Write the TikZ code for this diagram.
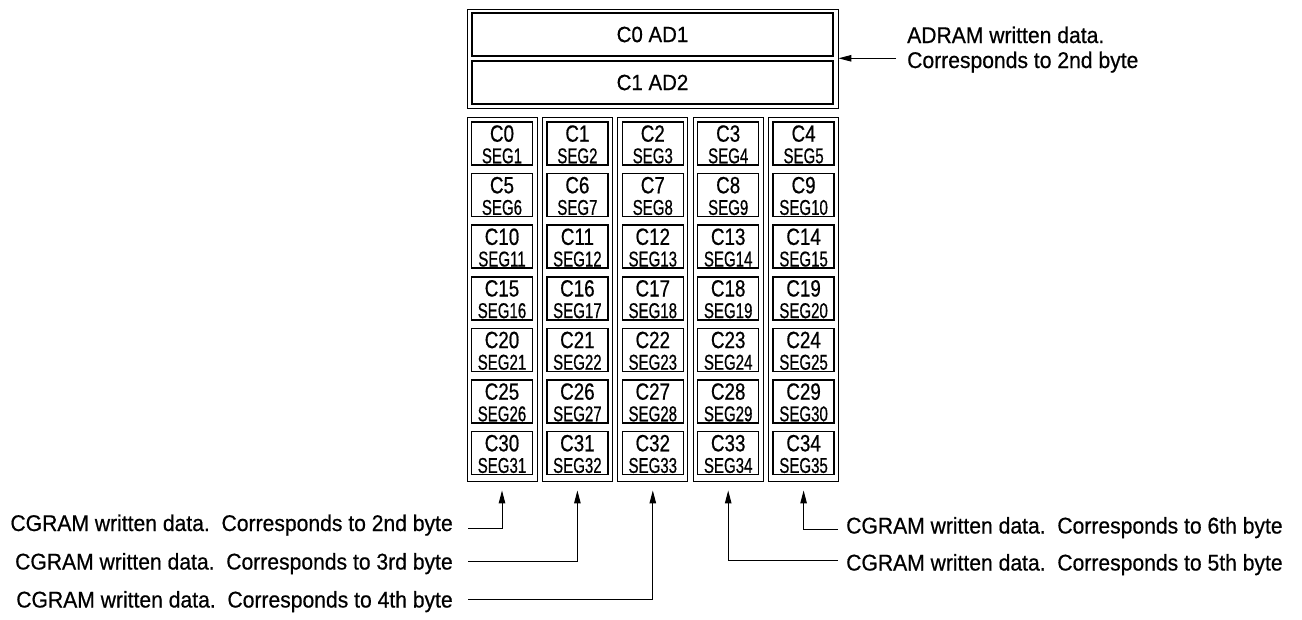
\documentclass[tikz,border=0pt]{standalone}
\usepackage{fontspec}
\setmainfont[FakeStretch=0.93,FakeBold=0.6]{Liberation Sans}
\newfontfamily\topcond[FakeStretch=0.8,FakeBold=0.6]{Liberation Sans}
\newfontfamily\botcond[FakeStretch=0.7,FakeBold=0.6]{Liberation Sans}
\usetikzlibrary{arrows.meta}
\begin{document}
\begin{tikzpicture}[x=1pt,y=-1pt,
  outerbox/.style={draw, line width=0.9pt, inner sep=0pt},
  innerbox/.style={draw, line width=1.5pt, inner sep=0pt},
  cellbox/.style={draw, line width=1.5pt, inner sep=0pt, minimum width=61pt, minimum height=43pt},
  celltop/.style={inner sep=0pt, font=\topcond\fontsize{23.5}{24}\selectfont},
  cellbot/.style={inner sep=0pt, font=\botcond\fontsize{21.5}{22}\selectfont},
  lbl/.style={inner sep=0pt, font=\fontsize{22.7}{24}\selectfont},
  arr/.style={-{Triangle[length=13pt,width=6.5pt]}, line width=1pt}]
\useasboundingbox (0,0) rectangle (1302,619);

% ADRAM block
\node[outerbox, minimum width=371pt, minimum height=99pt] (adram) at (652.5,58.5) {};
\node[innerbox, minimum width=361pt, minimum height=43pt, font=\fontsize{22}{24}\selectfont] (ad1) at (652.5,34.5) {C0 AD1};
\node[innerbox, minimum width=361pt, minimum height=43pt, font=\fontsize{22}{24}\selectfont] (ad2) at (652.5,82.5) {C1 AD2};

% CGRAM columns
\foreach \i in {0,...,4}{
  \pgfmathsetmacro\cx{502+75.4*\i}
  \node[outerbox, minimum width=70pt, minimum height=364pt] (col\i) at (\cx,299) {};
  \foreach \j in {0,...,6}{
    \pgfmathtruncatemacro\n{5*\j+\i}
    \pgfmathtruncatemacro\s{\n+1}
    \pgfmathsetmacro\ty{122+51.6*\j}
    \node[cellbox] (cell\n) at (\cx,\ty+21.5) {};
    \node[celltop, anchor=base] (ct\n) at (\cx,\ty+19.7) {C\n};
    \node[cellbot, anchor=base] (cb\n) at (\cx,\ty+41.3) {SEG\s};
  }
}

% ADRAM label and arrow
\node[lbl, anchor=base west] (la1) at (907,43) {ADRAM written data.};
\node[lbl, anchor=base west] (la2) at (907,68) {Corresponds to 2nd byte};
\coordinate (sa) at (896,58.3);
\draw[arr] (sa) -- (sa -| adram.east);

% left labels
\node[lbl, anchor=base east] (l2) at (453,531) {CGRAM written data.\ \ Corresponds to 2nd byte};
\node[lbl, anchor=base east] (l3) at (453,569.5) {CGRAM written data.\ \ Corresponds to 3rd byte};
\node[lbl, anchor=base east] (l4) at (453,607.5) {CGRAM written data.\ \ Corresponds to 4th byte};
\coordinate (s2) at (468,528);
\coordinate (s3) at (468,561);
\coordinate (s4) at (468,599);
\draw[arr] (s2) -| ([yshift=-9pt]col0.south);
\draw[arr] (s3) -| ([yshift=-9pt]col1.south);
\draw[arr] (s4) -| ([yshift=-9pt]col2.south);

% right labels
\node[lbl, anchor=base west] (l6) at (846,533.5) {CGRAM written data.\ \ Corresponds to 6th byte};
\node[lbl, anchor=base west] (l5) at (846,570.5) {CGRAM written data.\ \ Corresponds to 5th byte};
\coordinate (s6) at (838,529);
\coordinate (s5) at (838,560);
\draw[arr] (s6) -| ([yshift=-9pt]col4.south);
\draw[arr] (s5) -| ([yshift=-9pt]col3.south);
\end{tikzpicture}
\end{document}
